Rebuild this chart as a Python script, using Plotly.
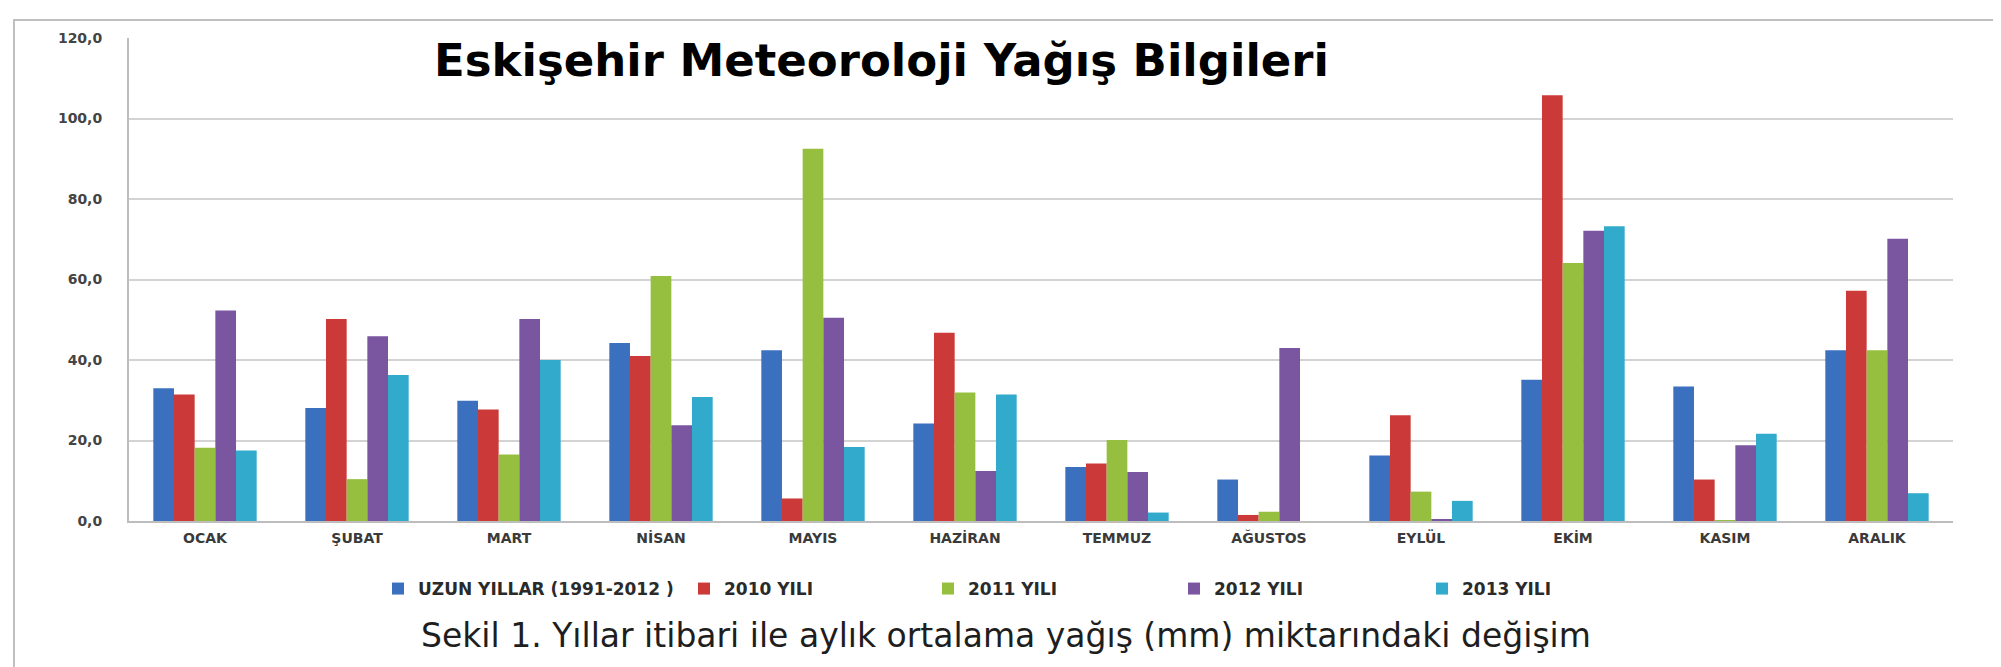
import plotly.graph_objects as go

months = ["OCAK", "ŞUBAT", "MART", "NİSAN", "MAYIS", "HAZİRAN",
          "TEMMUZ", "AĞUSTOS", "EYLÜL", "EKİM", "KASIM", "ARALIK"]

uzun_yillar = [33.0, 28.1, 29.9, 44.2, 42.4, 24.2, 13.4, 10.3, 16.3, 35.1, 33.4, 42.4]
yil_2010 = [31.4, 50.2, 27.7, 41.0, 5.6, 46.8, 14.3, 1.5, 26.3, 105.8, 10.3, 57.2]
yil_2011 = [18.2, 10.4, 16.5, 60.9, 92.5, 31.9, 20.1, 2.3, 7.3, 64.1, 0.2, 42.4]
yil_2012 = [52.3, 45.9, 50.2, 23.8, 50.5, 12.4, 12.2, 43.0, 0.3, 72.1, 18.8, 70.1]
yil_2013 = [17.5, 36.3, 40.0, 30.8, 18.4, 31.4, 2.1, 0.0, 5.0, 73.2, 21.7, 6.9]

series_names = ["UZUN YILLAR (1991-2012 )", "2010 YILI", "2011 YILI", "2012 YILI", "2013 YILI"]
series_values = [uzun_yillar, yil_2010, yil_2011, yil_2012, yil_2013]
colors = ["#3B70BF", "#CB3A39", "#97BF3F", "#7A55A0", "#31AACB"]

y_ticks = [0, 20, 40, 60, 80, 100, 120]

title_text = "Eskişehir Meteoroloji Yağış Bilgileri"
caption_text = "Sekil 1. Yıllar itibari ile aylık ortalama yağış (mm) miktarındaki değişim"

W, H = 2001, 667
L, R, T, B = 121, 56, 30, 154
pw = W - L - R
ph = H - T - B

def px_x(x):
    return (x - L) / pw

def px_y(y):
    return (H - B - y) / ph

legend_x_px = [398, 704, 948, 1194, 1442]

fig = go.Figure()
for i, (name, vals, col) in enumerate(zip(series_names, series_values, colors)):
    lg = "legend" if i == 0 else f"legend{i+1}"
    fig.add_trace(go.Bar(x=months, y=vals, name=name, marker_color=col,
                         marker_line_width=0, legend=lg))

font_main = "DejaVu Sans"
legend_common = dict(orientation="h", xanchor="left", yanchor="middle",
                     bgcolor="rgba(0,0,0,0)",
                     font=dict(family=font_main, size=17, color="#2A2A2A", weight="bold"),
                     itemwidth=30)
layout_legends = {}
for i, xp in enumerate(legend_x_px):
    key = "legend" if i == 0 else f"legend{i+1}"
    layout_legends[key] = dict(legend_common, x=px_x(xp - 28), y=px_y(581))

fig.update_layout(
    width=W, height=H,
    margin=dict(l=L, r=R, t=T, b=B),
    paper_bgcolor="white", plot_bgcolor="white",
    separators=",.",
    barmode="group", bargap=0.32, bargroupgap=0,
    showlegend=True,
    title=dict(text=title_text, x=426 / W, xanchor="left", xref="container",
               y=1 - 52 / H, yanchor="middle", yref="container",
               font=dict(family=font_main, size=45, color="#000000", weight="bold")),
    xaxis=dict(showgrid=False, showline=True, linecolor="#BDBDBD", linewidth=2,
               ticks="", tickfont=dict(family=font_main, size=14, color="#3A3A3A", weight="bold"),
               ticklabelstandoff=3),
    yaxis=dict(range=[0, 120], tickvals=y_ticks, tickformat=".1f",
               showgrid=True, gridcolor="#D3D3D3", gridwidth=2,
               showline=True, linecolor="#BDBDBD", linewidth=2, zeroline=False,
               ticks="", tickfont=dict(family=font_main, size=14, color="#444444", weight="bold"),
               ticklabelstandoff=22),
    annotations=[dict(text=caption_text, xref="paper", yref="paper",
                      x=px_x(998), y=px_y(627), xanchor="center", yanchor="middle",
                      showarrow=False,
                      font=dict(family=font_main, size=33, color="#1E1E1E"))],
    shapes=[dict(type="path", xref="paper", yref="paper",
                 path=f"M {px_x(6)} {px_y(H+5)} L {px_x(6)} {px_y(12)} L {px_x(1989)} {px_y(12)} L {px_x(1989)} {px_y(H+5)}",
                 line=dict(color="#BFBFBF", width=2))],
    **layout_legends,
)

fig.write_html("out.html")
